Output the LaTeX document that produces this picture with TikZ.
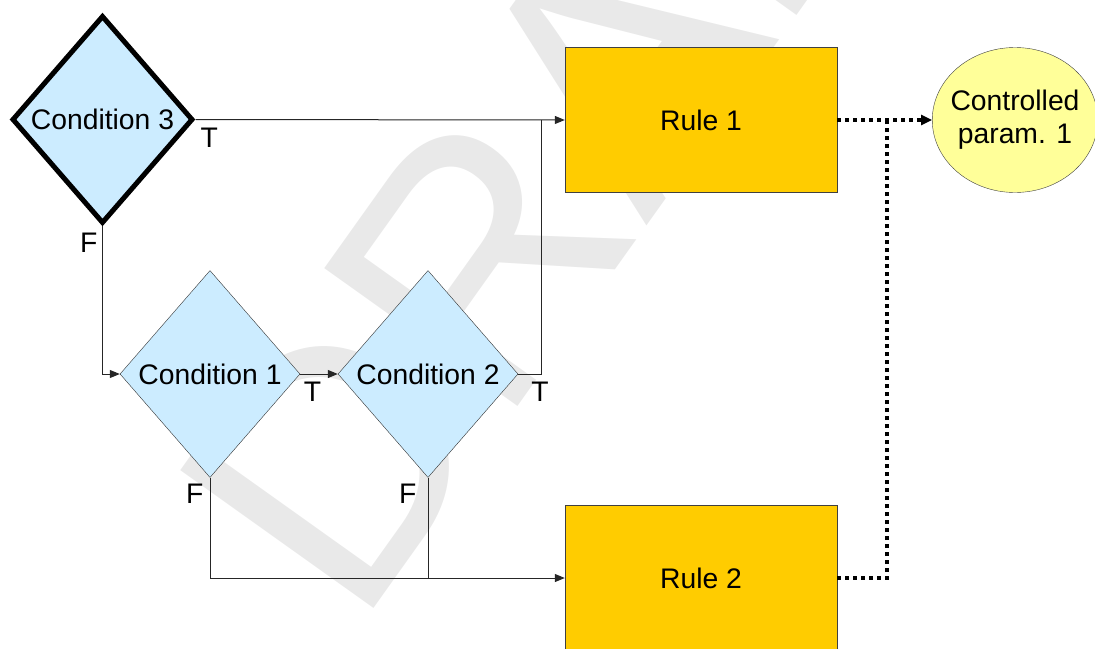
\documentclass[tikz,border=0pt]{standalone}
\usepackage{fontspec}
\setmainfont{Liberation Sans}
\usetikzlibrary{shapes.geometric,arrows.meta,calc}

\definecolor{condblue}{RGB}{204,236,255}
\definecolor{rulegold}{RGB}{255,204,0}
\definecolor{paramyellow}{RGB}{255,255,153}
\definecolor{markgray}{RGB}{233,233,233}
\newcommand\chartfont{\fontsize{28.3}{33}\selectfont}

\tikzset{
  cond/.style={diamond, draw=black!80, fill=condblue, inner sep=0pt,
    minimum width=180pt, minimum height=207pt},
  rulebox/.style={rectangle, draw=black!75, fill=rulegold,
    minimum width=272pt, minimum height=145pt},
  param/.style={ellipse, draw=black!75, fill=paramyellow, align=center,
    inner xsep=-6pt, inner ysep=0pt, minimum width=158pt, minimum height=145pt},
  flow/.style={draw=black!85, line width=1pt},
  tip/.style={-{Triangle[length=10pt,width=8pt]}},
  signal/.style={line width=3.6pt, dash pattern=on 3.6pt off 4.4pt},
  sigtip/.style={-{Triangle[length=11pt,width=10pt]}},
  tf/.style={inner sep=0pt},
}

\begin{document}
\begin{tikzpicture}[x=1pt,y=-1pt,font=\chartfont]
\useasboundingbox (0,0) rectangle (1095,648);
\clip (0,0) rectangle (1095,648);
% watermark behind everything
\node[rotate=54.5, anchor=base west, inner sep=0pt, text=markgray,
  font=\fontsize{345}{345}\selectfont] (mark) at (357,632) {DRAFT};

% conditions
\node[cond, draw=black, line width=5pt, minimum width=181pt, minimum height=208pt] (c3) at (102.5,119.5) {Condition 3};
\node[cond] (c1) at (210,374) {Condition 1};
\node[cond] (c2) at (428,374) {Condition 2};

% rules and output
\node[rulebox] (r1) at (701,120) {Rule 1};
\node[rulebox] (r2) at (701,578) {Rule 2};
\node[param] (p1) at (1015,120) {Controlled\\param. 1};

% branch labels
\node[tf, anchor=north west] (t3) at ($(c3.east)+(5,8)$) {T};
\node[tf, anchor=north east] (f3) at ($(c3.south)+(-5,7)$) {F};
\node[tf, anchor=north west] (t1) at ($(c1.east)+(3.5,8)$) {T};
\node[tf, anchor=north east] (f1) at ($(c1.south)+(-6.5,6)$) {F};
\node[tf, anchor=north west] (t2) at ($(c2.east)+(13,8)$) {T};
\node[tf, anchor=north east] (f2) at ($(c2.south)+(-11.5,6)$) {F};

% control flow
\coordinate (j1) at ($(r1.west)+(-23,0)$);
\coordinate (j2) at ($(r1.east)+(50,0)$);
\draw[flow,tip] (c3.east) -- (r1.west);
\draw[flow,tip] (c3.south) |- (c1.west);
\draw[flow,tip] (c1.east) -- (c2.west);
\draw[flow] (c2.east) -| (j1);
\draw[flow,tip] (c1.south) |- (r2.west);
\draw[flow] (c2.south) -- (c2.south |- r2.west);

% rule outputs
\draw[signal,sigtip] (r1.east) -- (p1.west);
\draw[signal] (r2.east) -| (j2);
\end{tikzpicture}
\end{document}
